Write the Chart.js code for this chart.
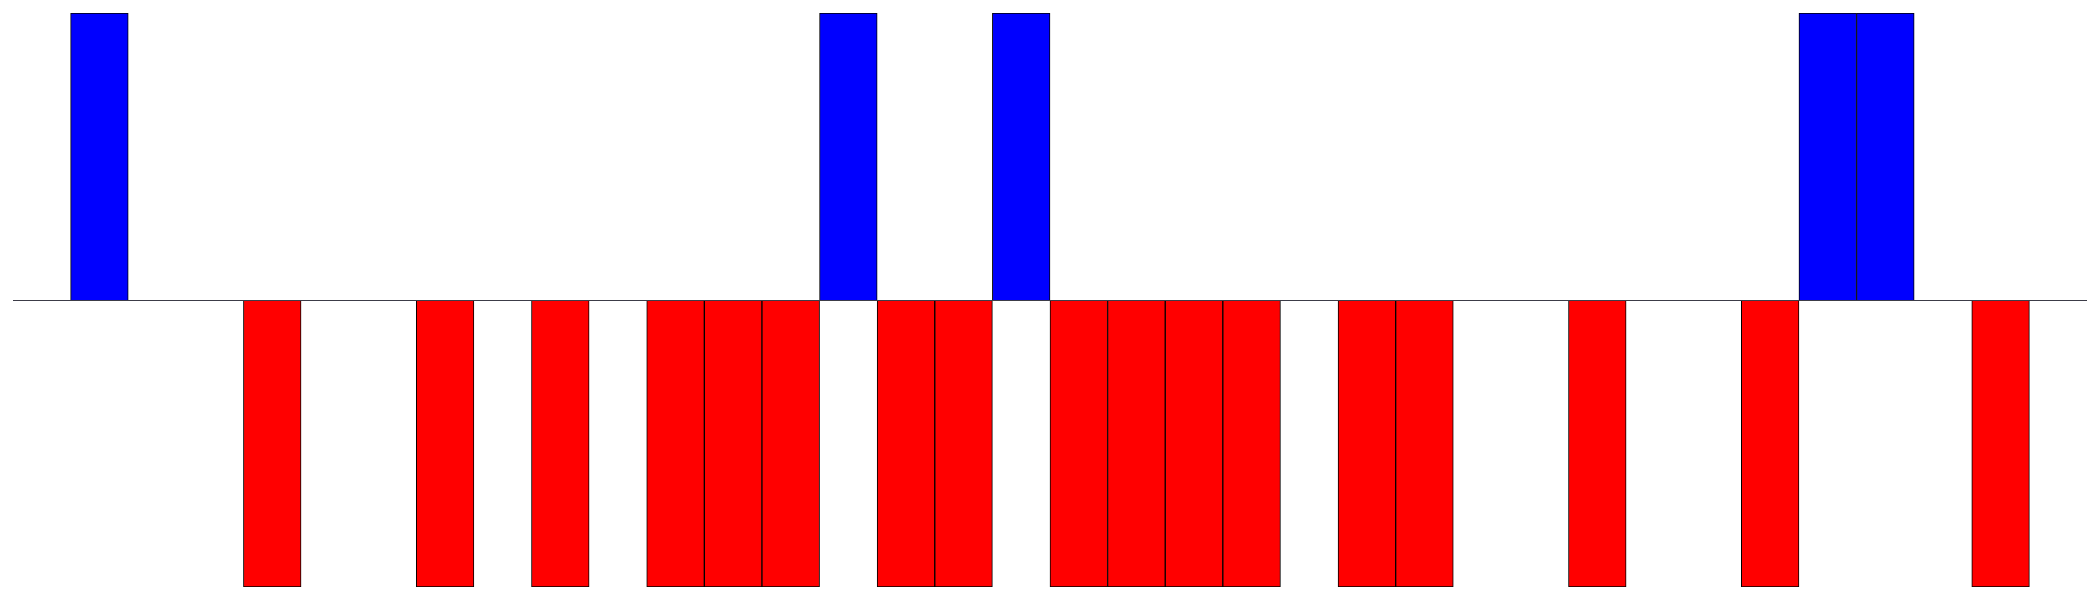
<!DOCTYPE html>
<html>
<head>
<meta charset="utf-8">
<script src="https://cdn.jsdelivr.net/npm/chart.js@4/dist/chart.umd.min.js"></script>
<style>
  html, body { margin: 0; padding: 0; background: #fff; }
  #wrap { width: 2100px; height: 600px; }
</style>
</head>
<body>
<div id="wrap"><canvas id="signChart"></canvas></div>
<script>
// one slot per step, +1 / -1 / 0 (empty)
const steps = ['1','2','3','4','5','6','7','8','9','10','11','12','13','14','15','16','17','18',
               '19','20','21','22','23','24','25','26','27','28','29','30','31','32','33','34','35','36'];
const signs = [0, 1, 0, 0, -1, 0, 0, -1, 0, -1, 0, -1, -1, -1, 1, -1, -1, 1,
               -1, -1, -1, -1, 0, -1, -1, 0, 0, -1, 0, 0, -1, 1, 1, 0, -1, 0];
const yRange = [-1, 1];

// thin baseline at zero, drawn over the bars
const zeroLine = {
    id: 'zeroLine',
    afterDatasetsDraw(chart) {
        const { ctx, chartArea, scales } = chart;
        const y = Math.round(scales.y.getPixelForValue(0)) + 0.5;
        ctx.save();
        ctx.strokeStyle = '#3c3c48';
        ctx.lineWidth = 1.2;
        ctx.beginPath();
        ctx.moveTo(chartArea.left, y);
        ctx.lineTo(chartArea.right, y);
        ctx.stroke();
        ctx.restore();
    }
};

new Chart(document.getElementById('signChart'), {
    type: 'bar',
    data: {
        labels: steps,
        datasets: [{
            data: signs,
            backgroundColor: signs.map(v => v > 0 ? '#0000ff' : '#ff0000'),
            borderColor: '#000',
            borderWidth: 1,
            barPercentage: 1,
            categoryPercentage: 1
        }]
    },
    options: {
        responsive: true,
        maintainAspectRatio: false,
        animation: false,
        layout: { padding: 13 },
        scales: {
            x: { display: false },
            y: { display: false, min: yRange[0], max: yRange[1] }
        },
        plugins: {
            legend: { display: false },
            tooltip: { enabled: false }
        }
    },
    plugins: [zeroLine]
});
</script>
</body>
</html>
